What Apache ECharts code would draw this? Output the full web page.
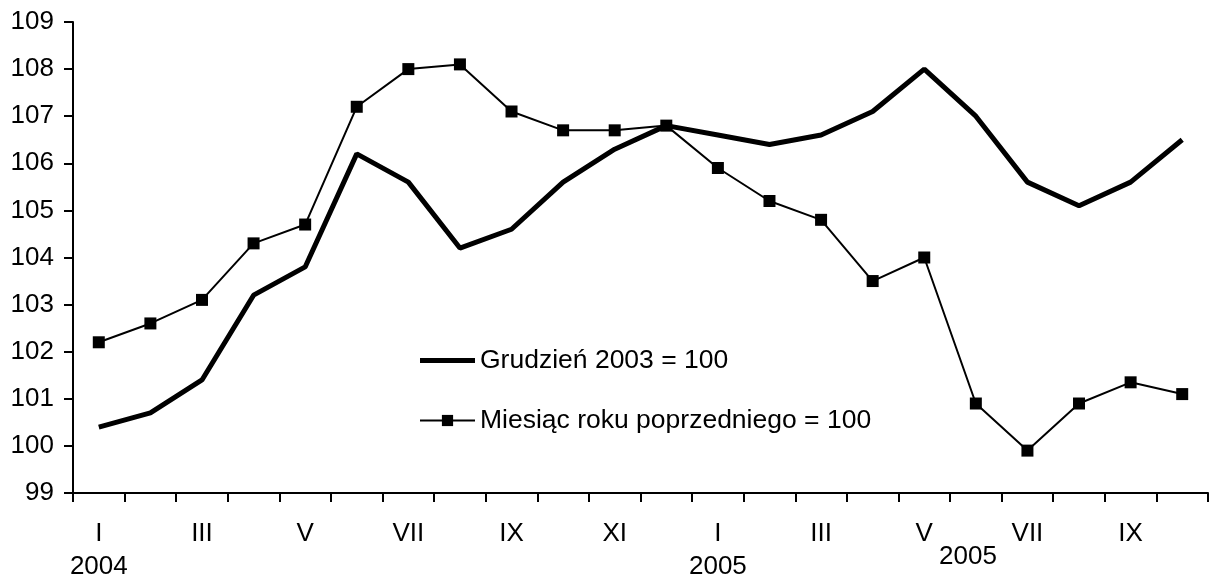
<!DOCTYPE html>
<html>
<head>
<meta charset="utf-8">
<script src="https://cdn.jsdelivr.net/npm/echarts@6/dist/echarts.min.js"></script>
<style>
  html, body { margin: 0; padding: 0; background: #fff; }
  #chart { width: 1210px; height: 577px; }
</style>
</head>
<body>
<div id="chart"></div>
<script>
const months = ['I\n2004', 'II', 'III', 'IV', 'V', 'VI', 'VII', 'VIII', 'IX', 'X', 'XI', 'XII',
                'I\n2005', 'II', 'III', 'IV', 'V', 'VI', 'VII', 'VIII', 'IX', 'X'];
const dec2003 = [100.4, 100.7, 101.4, 103.2, 103.8, 106.2, 105.6, 104.2, 104.6, 105.6, 106.3, 106.8,
                 106.6, 106.4, 106.6, 107.1, 108.0, 107.0, 105.6, 105.1, 105.6, 106.5];
const prevYear = [102.2, 102.6, 103.1, 104.3, 104.7, 107.2, 108.0, 108.1, 107.1, 106.7, 106.7, 106.8,
                  105.9, 105.2, 104.8, 103.5, 104.0, 100.9, 99.9, 100.9, 101.35, 101.1];
const seriesNames = ['Grudzień 2003 = 100', 'Miesiąc roku poprzedniego = 100'];

const chart = echarts.init(document.getElementById('chart'));
const font = 'Arial, "Liberation Sans", sans-serif';

chart.setOption({
    animation: false,
    backgroundColor: '#fff',
    textStyle: { fontFamily: font, color: '#000' },
    grid: { left: 73, right: 2, top: 22, bottom: 84, containLabel: false, outerBoundsMode: 'none' },
    legend: {
        orient: 'vertical',
        left: 414,
        top: 342,
        itemWidth: 55,
        itemHeight: 14,
        itemGap: 33,
        textStyle: { fontSize: 26.5, color: '#000', fontFamily: font },
        data: [
            { name: seriesNames[0], icon: 'path://M0,0L55,0L55,5L0,5Z' },
            { name: seriesNames[1] }
        ]
    },
    xAxis: {
        type: 'category',
        data: months,
        boundaryGap: true,
        axisLine: { lineStyle: { color: '#000', width: 2 } },
        axisTick: { show: true, length: 9, interval: 0, lineStyle: { color: '#000', width: 2 } },
        axisLabel: { interval: 1, color: '#000', fontSize: 26, lineHeight: 33, margin: 24, fontFamily: font },
        splitLine: { show: false }
    },
    yAxis: {
        type: 'value',
        min: 99,
        max: 109,
        interval: 1,
        axisLine: { show: true, lineStyle: { color: '#000', width: 2 } },
        axisTick: { show: true, length: 9, inside: false, lineStyle: { color: '#000', width: 2 } },
        axisLabel: { color: '#000', fontSize: 26, margin: 19, fontFamily: font },
        splitLine: { show: false }
    },
    graphic: [{
        type: 'text',
        left: 939,
        top: 544,
        style: { text: '2005', fontSize: 26, fill: '#000', fontFamily: font }
    }],
    series: [
        {
            name: seriesNames[0],
            type: 'line',
            data: dec2003,
            symbol: 'none',
            lineStyle: { color: '#000', width: 5 },
            itemStyle: { color: '#000' }
        },
        {
            name: seriesNames[1],
            type: 'line',
            data: prevYear,
            symbol: 'rect',
            symbolSize: 12,
            lineStyle: { color: '#000', width: 2 },
            itemStyle: { color: '#000' }
        }
    ]
});
</script>
</body>
</html>
